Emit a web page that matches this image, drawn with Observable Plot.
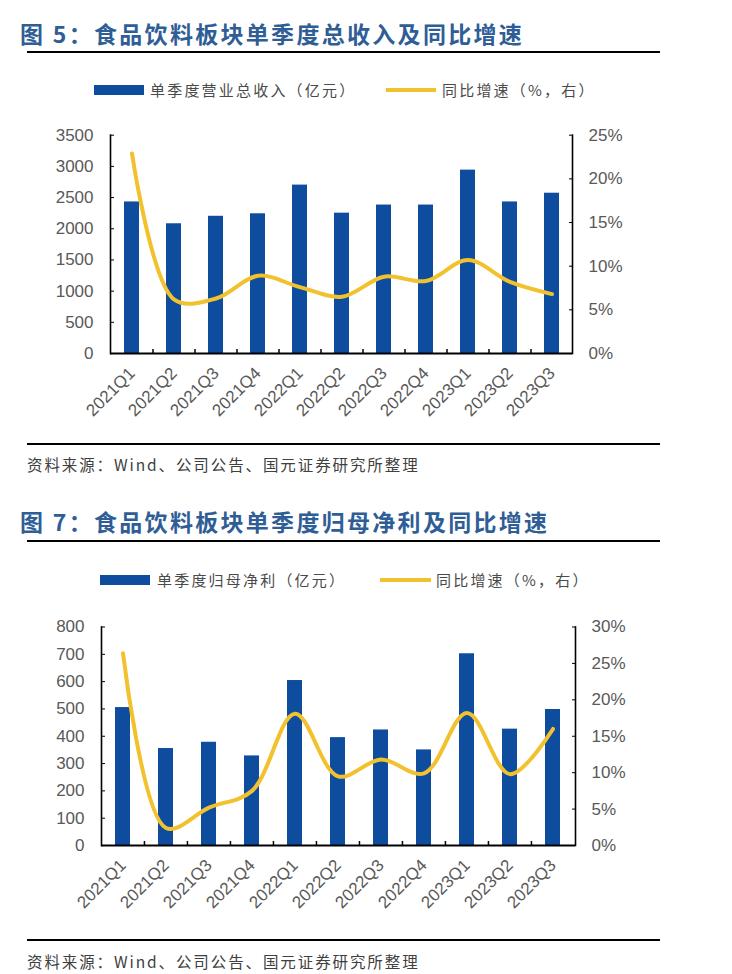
<!DOCTYPE html>
<html><head><meta charset="utf-8">
<script src="https://cdn.jsdelivr.net/npm/d3@7"></script>
<script src="https://cdn.jsdelivr.net/npm/@observablehq/plot@0.6"></script>
<style>
html,body{margin:0;padding:0;background:#fff;}
#page{position:relative;width:732px;height:974px;overflow:hidden;font-family:"Noto Sans CJK SC","Liberation Sans",sans-serif;}
.title{position:absolute;left:20px;font-size:23px;font-weight:700;color:#2f5d96;letter-spacing:2.3px;white-space:nowrap;line-height:1;}
.rule{position:absolute;left:27px;width:633px;height:2px;background:#000;}
.src{position:absolute;left:27px;font-size:15.5px;color:#404040;letter-spacing:1.9px;white-space:nowrap;line-height:1;}
.leg{position:absolute;font-size:15px;color:#4a4a4a;letter-spacing:2.2px;white-space:nowrap;line-height:1;}
.sw{position:absolute;}
.chart{position:absolute;left:0;}
</style></head>
<body><div id="page">
<div class="title" style="top:22px">图 5：食品饮料板块单季度总收入及同比增速</div>
<div class="rule" style="top:51px"></div>
<div class="sw" style="left:94px;top:85px;width:50px;height:10px;background:#0e4c9e"></div>
<div class="leg" style="left:150px;top:82px">单季度营业总收入（亿元）</div>
<div class="sw" style="left:386px;top:88px;width:50px;height:4px;background:#f2c12e"></div>
<div class="leg" style="left:442px;top:82px">同比增速（%，右）</div>
<div id="c1" class="chart" style="top:110px"></div>
<div class="rule" style="top:443px"></div>
<div class="src" style="top:457px">资料来源：Wind、公司公告、国元证券研究所整理</div>

<div class="title" style="top:510px">图 7：食品饮料板块单季度归母净利及同比增速</div>
<div class="rule" style="top:540px"></div>
<div class="sw" style="left:100px;top:575px;width:50px;height:10px;background:#0e4c9e"></div>
<div class="leg" style="left:157px;top:572px">单季度归母净利（亿元）</div>
<div class="sw" style="left:380px;top:578px;width:51px;height:4px;background:#f2c12e"></div>
<div class="leg" style="left:436px;top:572px">同比增速（%，右）</div>
<div id="c2" class="chart" style="top:600px"></div>
<div class="rule" style="top:939px"></div>
<div class="src" style="top:954px">资料来源：Wind、公司公告、国元证券研究所整理</div>
</div>
<script>
const quarters = ["2021Q1","2021Q2","2021Q3","2021Q4","2022Q1","2022Q2","2022Q3","2022Q4","2023Q1","2023Q2","2023Q3"];
// Chart 1: quarterly total revenue (亿元) and YoY growth (%)
const revenue = [2430, 2080, 2200, 2240, 2700, 2250, 2380, 2380, 2940, 2430, 2570];
const revenueGrowth = [22.9, 6.2, 6.3, 8.9, 7.6, 6.5, 8.8, 8.3, 10.7, 8.2, 6.8];
const leftTicks1 = [0, 500, 1000, 1500, 2000, 2500, 3000, 3500];
const rightTicks1 = [0, 5, 10, 15, 20, 25];
// Chart 2: quarterly net profit attributable (亿元) and YoY growth (%)
const profit = [505, 355, 378, 328, 604, 395, 423, 350, 702, 426, 498];
const profitGrowth = [26.4, 2.4, 5.2, 7.5, 18.1, 9.5, 11.8, 9.9, 18.2, 9.8, 16.0];
const leftTicks2 = [0, 100, 200, 300, 400, 500, 600, 700, 800];
const rightTicks2 = [0, 5, 10, 15, 20, 25, 30];

const BLUE = "#0e4c9e", GOLD = "#f2c12e", TXT = "#595959";

function dualChart({values, growth, leftTicks, rightTicks, height, mTop, mBottom, mLeft, mRight}) {
  const yMax = leftTicks[leftTicks.length - 1];
  const gMax = rightTicks[rightTicks.length - 1];
  const k = yMax / gMax;
  const width = 732;
  const step = (width - mLeft - mRight) / quarters.length;
  const plotH = height - mTop - mBottom;
  const tickUnits = 4 * yMax / plotH;
  const rows = quarters.map((q, i) => ({q, v: values[i], g: growth[i]}));
  return Plot.plot({
    width, height,
    marginTop: mTop, marginBottom: mBottom, marginLeft: mLeft, marginRight: mRight,
    style: {fontFamily: "'Liberation Sans', Arial, sans-serif", fontSize: "17px", color: TXT, background: "#fff"},
    x: {domain: quarters, paddingInner: 0.65, paddingOuter: 0.325, label: null},
    y: {domain: [0, yMax], label: null},
    marks: [
      Plot.barY(rows, {x: "q", y: "v", fill: BLUE}),
      Plot.line(rows, {x: "q", y: d => d.g * k, stroke: GOLD, strokeWidth: 4, curve: "catmull-rom"}),
      Plot.frame({anchor: "left", stroke: "#000", strokeWidth: 1.6}),
      Plot.frame({anchor: "right", stroke: "#000", strokeWidth: 1.6}),
      Plot.ruleY([0], {stroke: "#000", strokeWidth: 2}),
      Plot.ruleX(quarters.slice(1), {x: d => d, y1: 0, y2: tickUnits, dx: -step / 2, stroke: "#000", strokeWidth: 1.5}),
      Plot.axisY(leftTicks, {anchor: "left", tickSize: -4, tickPadding: 21, stroke: "#000", fill: TXT, fontSize: 17, tickFormat: d => String(d), label: null}),
      Plot.axisY(rightTicks.map(t => t * k), {anchor: "right", tickSize: -4, tickPadding: 20, stroke: "#000", fill: TXT, fontSize: 17, tickFormat: d => Math.round(d / k) + "%", label: null}),
      Plot.axisX({tickRotate: -45, tickSize: 0, tickPadding: 17, fill: TXT, fontSize: 17, label: null})
    ]
  });
}

document.getElementById("c1").append(dualChart({
  values: revenue, growth: revenueGrowth, leftTicks: leftTicks1, rightTicks: rightTicks1,
  height: 320, mTop: 24.7, mBottom: 77, mLeft: 110, mRight: 160
}));
document.getElementById("c2").append(dualChart({
  values: profit, growth: profitGrowth, leftTicks: leftTicks2, rightTicks: rightTicks2,
  height: 330, mTop: 26.5, mBottom: 85, mLeft: 101, mRight: 157
}));
</script>
</body></html>
